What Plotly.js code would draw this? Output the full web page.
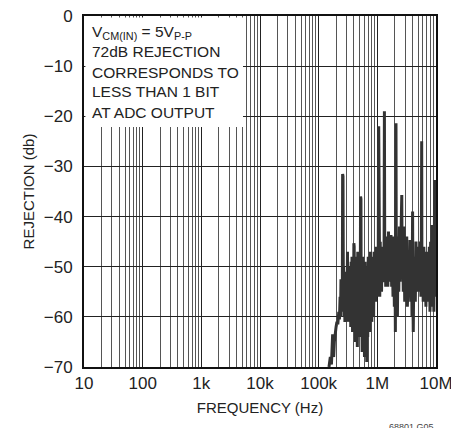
<!DOCTYPE html>
<html>
<head>
<meta charset="utf-8">
<script src="https://cdn.plot.ly/plotly-3.0.1.min.js"></script>
<style>html,body{margin:0;padding:0;background:#fff;}#chart{width:451px;height:428px;}</style>
</head>
<body>
<div id="chart"></div>
<script>
// Frequency (Hz) and rejection (dB)
const freqHz = [
150000,158000,165000,170000,173000,176000,180000,185000,190000,198000,
205000,212000,220000,226000,232000,236000,240000,244000,248000,253000,
256000,260000,264000,266000,270000,275000,280000,286000,292000,298000,304000,
310000,316000,322000,328000,334000,340000,346000,352000,358000,364000,
370000,378000,386000,394000,398000,403000,408000,416000,424000,432000,440000,
448000,456000,464000,472000,480000,490000,500000,510000,518000,526000,532000,
540000,552000,564000,576000,590000,604000,618000,632000,646000,660000,
672000,686000,700000,715000,730000,745000,760000,775000,790000,805000,
820000,835000,850000,865000,880000,895000,912000,930000,950000,968000,
990000,1030000,1055000,1070000,1085000,1100000,1120000,1140000,1160000,1180000,1200000,
1230000,1300000,1320000,1340000,1365000,1390000,1420000,1450000,1480000,1510000,1550000,
1590000,1630000,1670000,1710000,1755000,1800000,1850000,1900000,1950000,2000000,
2030000,2060000,2080000,2110000,2150000,2200000,2260000,2320000,2380000,2440000,2500000,
2610000,2650000,2700000,2770000,2850000,2930000,3010000,3090000,3170000,3250000,3340000,
3430000,3520000,3600000,3700000,3800000,3900000,3990000,4040000,4100000,4200000,4320000,
4440000,4560000,4690000,4820000,4950000,5090000,5230000,5380000,5530000,5630000,
5700000,5760000,5900000,6050000,6200000,6380000,6550000,6730000,6920000,7100000,7300000,
7500000,7700000,7900000,8100000,8330000,8530000,8760000,9000000,9200000,9350000,
9500000,9620000,9760000,9880000,10000000
];
const rejectionDb = [
-70,-68,-69.5,-64,-63.5,-67,-68,-65,-63,-62,
-61,-61.5,-59,-60.5,-56,-60,-52.5,-59,-53,-58,
-31.5,-32,-57,-50,-60,-53,-61,-51,-60,-53,-59,
-47,-61,-52,-60,-53,-61,-50,-62,-49,-58,
-48,-63,-50,-58,-45.3,-46,-63,-51,-65,-48,-62,
-53,-66,-47,-60,-51,-64,-48,-60,-36,-36.5,-62,
-50,-67,-48,-63,-52,-68,-49,-62,-51,-69,
-50,-64,-48,-60,-50,-63,-47,-58,-51,-61,
-48,-56,-50,-60,-47,-55,-49,-57,-46,-55,
-50,-56,-22,-53,-47,-56,-45,-54,-49,-55,-46,
-53,-52,-19,-52,-45,-54,-44,-53,-47,-54,-43,
-53,-45,-52,-43.7,-54,-46,-56,-44,-58,-49,
-63,-45,-21.4,-56,-47,-60,-44,-55,-42,-53,-44,
-35.7,-52,-44,-55,-42,-57,-46,-55,-44,-58,-47,
-47,-56,-44.7,-57,-46,-60,-39,-56,-63,-48,-52,
-57,-45,-55,-46,-54,-47,-55,-45,-56,-46,
-25,-54,-48,-57,-46,-56,-48,-58,-47,-50.7,-55,
-57,-46,-59,-45,-57,-41.7,-58,-48,-59,-47,
-32.7,-52,-56,-50,-45
];
const xTickVals = [10,100,1000,10000,100000,1000000,10000000];
const xTickText = ['10','100','1k','10k','100k','1M','10M'];
const yTickVals = [0,-10,-20,-30,-40,-50,-60,-70];
const noteLines = ['V<sub>CM(IN)</sub> = 5V<sub>P-P</sub>','72dB REJECTION','CORRESPONDS TO','LESS THAN 1 BIT','AT ADC OUTPUT'];

const FONT = '"Liberation Sans", Arial, Helvetica, sans-serif';
const plotTop = 16, plotBottom = 367, plotH = plotBottom - plotTop;
const lineY = [32, 51, 72, 92, 112];

const annotations = noteLines.map((t, i) => ({
  text: t, xref: 'paper', yref: 'paper', x: 0.017, y: (plotBottom - lineY[i]) / plotH,
  xanchor: 'left', yanchor: 'middle', showarrow: false, align: 'left',
  font: {family: FONT, size: 15.5, color: '#222'}
}));
annotations.push({
  text: '68801 G05', xref: 'paper', yref: 'paper', x: 1, y: -0.15, xanchor: 'right', yanchor: 'top',
  showarrow: false, font: {family: FONT, size: 9, color: '#444'}
});

const data = [{
  x: freqHz, y: rejectionDb, type: 'scatter', mode: 'lines',
  line: {color: '#333333', width: 3}, hoverinfo: 'skip'
}];

const layout = {
  width: 451, height: 428,
  margin: {l: 84, r: 15, t: 16, b: 61},
  paper_bgcolor: '#fff', plot_bgcolor: '#fff',
  showlegend: false,
  font: {family: FONT, size: 17, color: '#222'},
  xaxis: {
    type: 'log', range: [1, 7], tickmode: 'array', tickvals: xTickVals, ticktext: xTickText,
    showgrid: true, gridcolor: '#222', gridwidth: 1,
    minor: {dtick: 'D1', showgrid: true, gridcolor: '#555', gridwidth: 1, ticks: ''},
    showline: true, linecolor: '#111', linewidth: 2, mirror: true, ticks: '',
    ticklabeloverflow: 'allow',
    tickfont: {family: FONT, size: 17, color: '#222'},
    title: {text: 'FREQUENCY (Hz)', font: {family: FONT, size: 15, color: '#222'}, standoff: 10},
    zeroline: false, fixedrange: true
  },
  yaxis: {
    range: [-70, 0], tickmode: 'array', tickvals: yTickVals,
    showgrid: true, gridcolor: '#222', gridwidth: 1,
    showline: true, linecolor: '#111', linewidth: 2, mirror: true, ticks: '',
    ticklabelstandoff: 6, ticklabeloverflow: 'allow',
    tickfont: {family: FONT, size: 17, color: '#222'},
    title: {text: 'REJECTION (db)', font: {family: FONT, size: 15, color: '#222'}, standoff: 6},
    zeroline: false, fixedrange: true
  },
  shapes: [{
    type: 'rect', xref: 'paper', yref: 'paper', layer: 'above',
    x0: 0.004, x1: (243 - 84) / 352, y0: (plotBottom - 127) / plotH, y1: 0.996,
    fillcolor: '#fff', line: {width: 0}
  }],
  annotations: annotations
};

Plotly.newPlot('chart', data, layout, {staticPlot: true, displayModeBar: false});
</script>
</body>
</html>
